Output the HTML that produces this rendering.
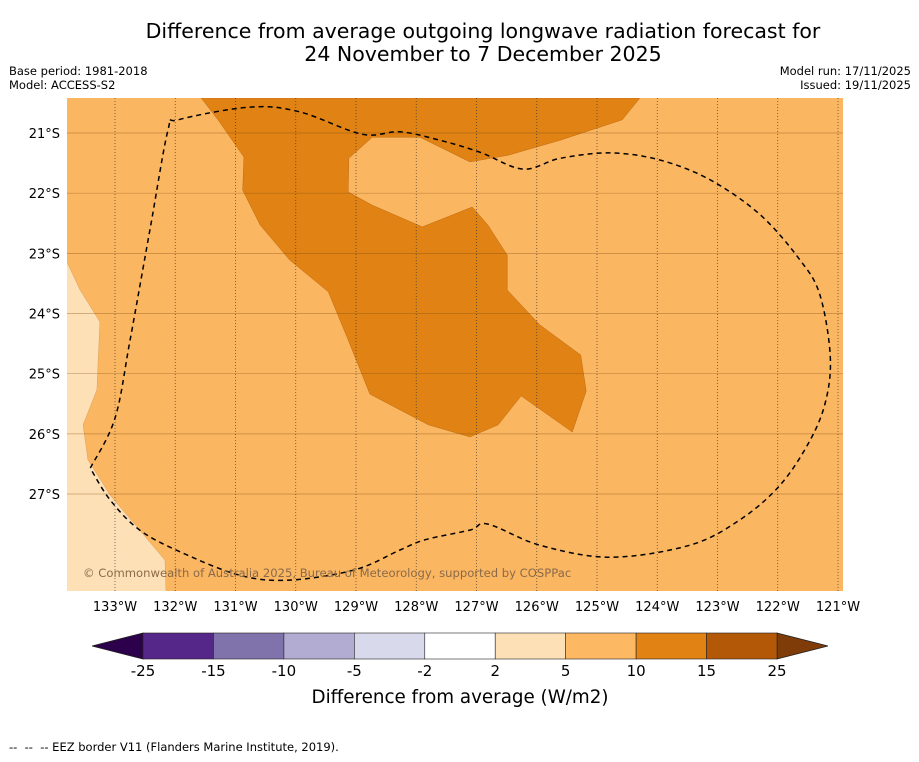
<!DOCTYPE html>
<html><head><meta charset="utf-8"><style>
body{margin:0;background:#fff;font-family:"DejaVu Sans","Liberation Sans",sans-serif;}
svg text{font-family:"DejaVu Sans","Liberation Sans",sans-serif;}
</style></head><body>
<svg id="chart" width="919" height="758" viewBox="0 0 919 758" xmlns="http://www.w3.org/2000/svg">
<text x="483" y="38" font-size="20.5" text-anchor="middle">Difference from average outgoing longwave radiation forecast for</text>
<text x="483" y="61" font-size="20.5" text-anchor="middle">24 November to 7 December 2025</text>
<text x="9" y="75" font-size="11.5">Base period: 1981-2018</text>
<text x="9" y="89" font-size="11.5">Model: ACCESS-S2</text>
<text x="911" y="75" font-size="11.5" text-anchor="end">Model run: 17/11/2025</text>
<text x="911" y="89" font-size="11.5" text-anchor="end">Issued: 19/11/2025</text>
<defs><clipPath id="mapclip"><rect x="67" y="98" width="776" height="493"/></clipPath></defs>
<g id="map" clip-path="url(#mapclip)"></g>
<g id="axes"></g>
<g id="cbar"></g>
<text x="460" y="703" font-size="18.3" text-anchor="middle">Difference from average (W/m2)</text>
<text x="9" y="751" font-size="11.5" xml:space="preserve">--  --  -- EEZ border V11 (Flanders Marine Institute, 2019).</text>
</svg>
<script>
const lonTicks=[133,132,131,130,129,128,127,126,125,124,123,122,121];
const latTicks=[21,22,23,24,25,26,27];
const darkLon=[131.57,131.29,130.86,130.88,130.59,130.10,129.46,129.13,128.77,127.80,127.11,126.64,126.26,125.41,125.18,125.27,125.95,126.49,126.49,126.81,127.07,127.90,128.73,129.13,129.12,128.73,127.94,127.11,126.48,125.61,124.58,124.29];
const darkLat=[20.42,20.78,21.40,21.95,22.53,23.11,23.64,24.44,25.34,25.85,26.05,25.85,25.37,25.97,25.29,24.69,24.19,23.61,23.03,22.53,22.23,22.56,22.20,21.98,21.42,21.07,21.07,21.48,21.37,21.12,20.78,20.42];
const lightLon=[133.9,133.80,133.58,133.25,133.30,133.53,133.45,133.08,132.59,132.17,132.15,133.9];
const lightLat=[23.0,23.14,23.61,24.14,25.27,25.85,26.43,27.02,27.60,28.10,28.7,28.7];
const eezLon=[133.41,133.00,132.75,132.42,132.12,131.95,130.76,129.93,128.90,128.27,127.61,126.94,126.23,125.61,124.78,123.95,123.12,122.29,121.63,121.30,121.13,121.20,121.46,121.96,122.63,123.46,124.78,125.95,126.81,127.11,127.85,128.27,129.02,130.10,130.93,131.92,132.59,133.08,133.41];
const eezLat=[26.57,25.74,24.44,22.61,20.95,20.78,20.57,20.65,21.02,20.98,21.12,21.32,21.60,21.42,21.33,21.45,21.78,22.36,23.11,23.69,24.69,25.44,26.10,26.85,27.43,27.85,28.05,27.85,27.50,27.60,27.76,27.93,28.26,28.43,28.35,27.96,27.60,27.10,26.57];
const cbLabels=["-25","-15","-10","-5","-2","2","5","10","15","25"];
const cbColors=["#542788","#8073ac","#b2abd2","#d8daeb","#ffffff","#fee0b6","#fdb863","#e08214","#b35806"];
const NS="http://www.w3.org/2000/svg";
const xS=l=>115+(133-l)*60.25;
const yS=l=>133+(l-21)*60.17;
function mk(tag,attrs,parent){const e=document.createElementNS(NS,tag);for(const k in attrs)e.setAttribute(k,attrs[k]);parent.appendChild(e);return e;}
const map=document.getElementById('map'),axes=document.getElementById('axes'),cb=document.getElementById('cbar');
const pts=(lo,la)=>lo.map((v,i)=>xS(v).toFixed(1)+','+yS(la[i]).toFixed(1)).join(' ');
function smooth(lo,la){const p=lo.map((v,i)=>[xS(v),yS(la[i])]);let d='M'+p[0][0].toFixed(1)+','+p[0][1].toFixed(1);
 for(let i=0;i<p.length-1;i++){const p0=p[Math.max(0,i-1)],p1=p[i],p2=p[i+1],p3=p[Math.min(p.length-1,i+2)];
 const c1=[p1[0]+(p2[0]-p0[0])/6,p1[1]+(p2[1]-p0[1])/6],c2=[p2[0]-(p3[0]-p1[0])/6,p2[1]-(p3[1]-p1[1])/6];
 d+=` C${c1[0].toFixed(1)},${c1[1].toFixed(1)} ${c2[0].toFixed(1)},${c2[1].toFixed(1)} ${p2[0].toFixed(1)},${p2[1].toFixed(1)}`;}return d;}
let bg=mk('rect',{x:67,y:98,width:776,height:493,fill:'#fbb661'},map);


let lp=mk('polygon',{points:pts(lightLon,lightLat),fill:'#fee0b6',stroke:'#d9a060','stroke-width':0.5},map);


let dp=mk('polygon',{points:pts(darkLon,darkLat),fill:'#e08214',stroke:'#c06a10','stroke-width':0.5},map);


lonTicks.forEach(l=>{
 let g=mk('line',{x1:xS(l),x2:xS(l),y1:98,y2:591,stroke:'#333','stroke-width':0.8,'stroke-dasharray':'1,2',opacity:0.8},map);
 
 
 let t=mk('text',{x:xS(l),y:611,'font-size':13,'text-anchor':'middle'},axes);t.textContent=l+'°W';
 
 
});
latTicks.forEach(l=>{
 let g=mk('line',{x1:67,x2:843,y1:yS(l),y2:yS(l),stroke:'#7a4a10','stroke-width':0.7,opacity:0.45},map);
 
 
 let t=mk('text',{x:60,y:yS(l)+5,'font-size':13,'text-anchor':'end'},axes);t.textContent=l+'°S';
 
 
});
let eez=mk('path',{d:smooth(eezLon,eezLat),fill:'none',stroke:'#000','stroke-width':1.5,'stroke-dasharray':'5,4','stroke-linejoin':'round'},map);


let cp=mk('text',{x:83,y:577,'font-size':11.6,fill:'#8a6a4a'},map);cp.textContent='© Commonwealth of Australia 2025, Bureau of Meteorology, supported by COSPPac';


const cx0=143,cx1=777,cy0=633,cy1=659,n=cbColors.length,w=(cx1-cx0)/n;
let lt=mk('polygon',{points:`92,646 ${cx0},${cy0} ${cx0},${cy1}`,fill:'#2d004b',stroke:'#222','stroke-width':0.8},cb);


let rt=mk('polygon',{points:`828,646 ${cx1},${cy0} ${cx1},${cy1}`,fill:'#7f3b08',stroke:'#222','stroke-width':0.8},cb);


cbColors.forEach((c,i)=>{
 let r=mk('rect',{x:cx0+i*w,y:cy0,width:w,height:cy1-cy0,fill:c,stroke:'#222','stroke-width':0.6},cb);
 
 
});
cbLabels.forEach((s,i)=>{
 let t=mk('text',{x:cx0+i*w,y:676,'font-size':15,'text-anchor':'middle'},cb);t.textContent=s;
 
 
});
</script>
</body></html>
